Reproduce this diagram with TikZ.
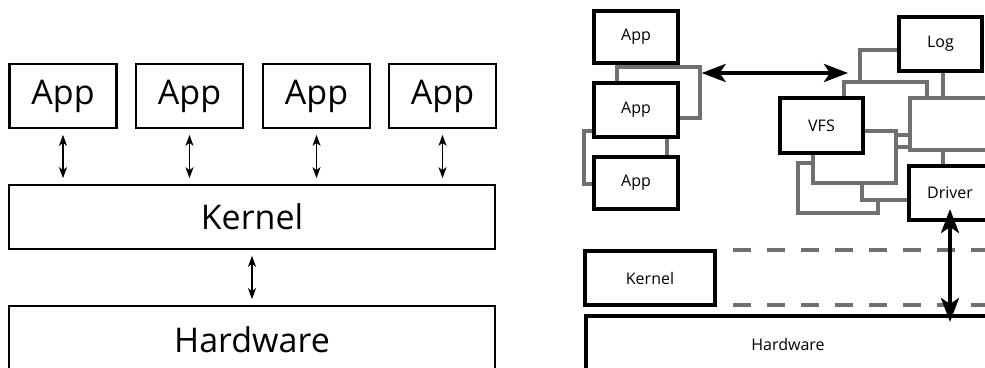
\documentclass[tikz,border=0pt]{standalone}
\usepackage{fontspec}
\setmainfont{Open Sans}
\usepackage{xcolor}
\usetikzlibrary{arrows.meta}

\definecolor{wingray}{RGB}{112,112,112}

\begin{document}
\begin{tikzpicture}[x=1pt,y=-1pt,
  box/.style={draw,fill=white,line width=2.7pt,inner sep=0pt,font=\fontsize{34}{34}\selectfont},
  sbox/.style={draw,fill=white,line width=4pt,inner sep=0pt,font=\fontsize{16}{16}\selectfont},
  win/.style={draw=wingray,fill=white,line width=3.3pt,inner sep=0pt},
  link/.style={{Stealth[length=11pt,width=8pt,inset=3pt]}-{Stealth[length=11pt,width=8pt,inset=3pt]},line width=1.3pt,shorten <=5.5pt,shorten >=5.5pt},
  biglink/.style={{Stealth[length=24pt,width=18pt,inset=6pt]}-{Stealth[length=24pt,width=18pt,inset=6pt]},line width=4pt},
  layer/.style={draw=wingray,line width=4pt,dash pattern=on 18pt off 16pt}]
  \useasboundingbox (0,0) rectangle (985,367);
  \clip (0,0) rectangle (985,367);

  % monolithic: apps on one kernel
  \node[box,minimum width=107pt,minimum height=64pt] (app1) at (63,96) {App};
  \node[box,minimum width=107pt,minimum height=64pt] (app2) at (189.5,96) {App};
  \node[box,minimum width=107pt,minimum height=64pt] (app3) at (316.5,96) {App};
  \node[box,minimum width=107pt,minimum height=64pt] (app4) at (442.5,96) {App};
  \node[box,minimum width=486pt,minimum height=64pt] (kernel) at (252,217) {Kernel};
  \node[box,minimum width=486pt,minimum height=68pt] (hw) at (252,340) {Hardware};
  \draw[link] (app1.south) -- (app1.south |- kernel.north);
  \draw[link] (app2.south) -- (app2.south |- kernel.north);
  \draw[link] (app3.south) -- (app3.south |- kernel.north);
  \draw[link] (app4.south) -- (app4.south |- kernel.north);
  \draw[link] (kernel.south) -- (hw.north);

  % microkernel: apps and servers as stacked windows
  \node[win,minimum width=83pt,minimum height=51pt] (wa) at (658.5,92.5) {};
  \node[win,minimum width=83pt,minimum height=53pt] (wb) at (625.5,157.5) {};
  \node[sbox,minimum width=84pt,minimum height=52pt] (rapp1) at (636,37) {App};
  \node[sbox,minimum width=84pt,minimum height=54pt] (rapp2) at (636,110) {App};
  \node[sbox,minimum width=84pt,minimum height=52pt] (rapp3) at (636,183) {App};

  \node[win,minimum width=80pt,minimum height=50pt] (w8) at (838,188) {};
  \node[win,minimum width=81pt,minimum height=53pt] (w7) at (902.5,173.5) {};
  \node[win,minimum width=83pt,minimum height=54pt] (w1) at (901.5,77) {};
  \node[win,minimum width=83pt,minimum height=53pt] (w2) at (885.5,108.5) {};
  \node[win,minimum width=83pt,minimum height=52pt] (w3) at (951.5,124) {};
  \node[win,minimum width=83pt,minimum height=52pt] (w6) at (854.5,157) {};
  \node[sbox,minimum width=83pt,minimum height=55pt] (vfs) at (821.5,125.5) {VFS};
  \node[sbox,minimum width=83pt,minimum height=54pt] (log) at (940.5,44) {Log};
  \node[sbox,minimum width=82pt,minimum height=54pt] (driver) at (950,193) {Driver};

  \coordinate (sys) at (848,73);
  \draw[biglink] (wa.east |- sys) -- (sys);

  % kernel layer and hardware
  \node[sbox,minimum width=130pt,minimum height=54pt] (rkernel) at (650,278) {Kernel};
  \draw[layer] ([xshift=16pt,yshift=-1pt]rkernel.north east) -- ++(270,0);
  \draw[layer] ([xshift=16pt,yshift=2pt]rkernel.south east) -- ++(270,0);
  \node[sbox,minimum width=404pt,minimum height=56pt] (rhw) at (788,344) {Hardware};
  \draw[biglink,shorten >=-8pt] ([yshift=13pt]driver.south) -- (driver.south |- rhw.north);
\end{tikzpicture}
\end{document}
